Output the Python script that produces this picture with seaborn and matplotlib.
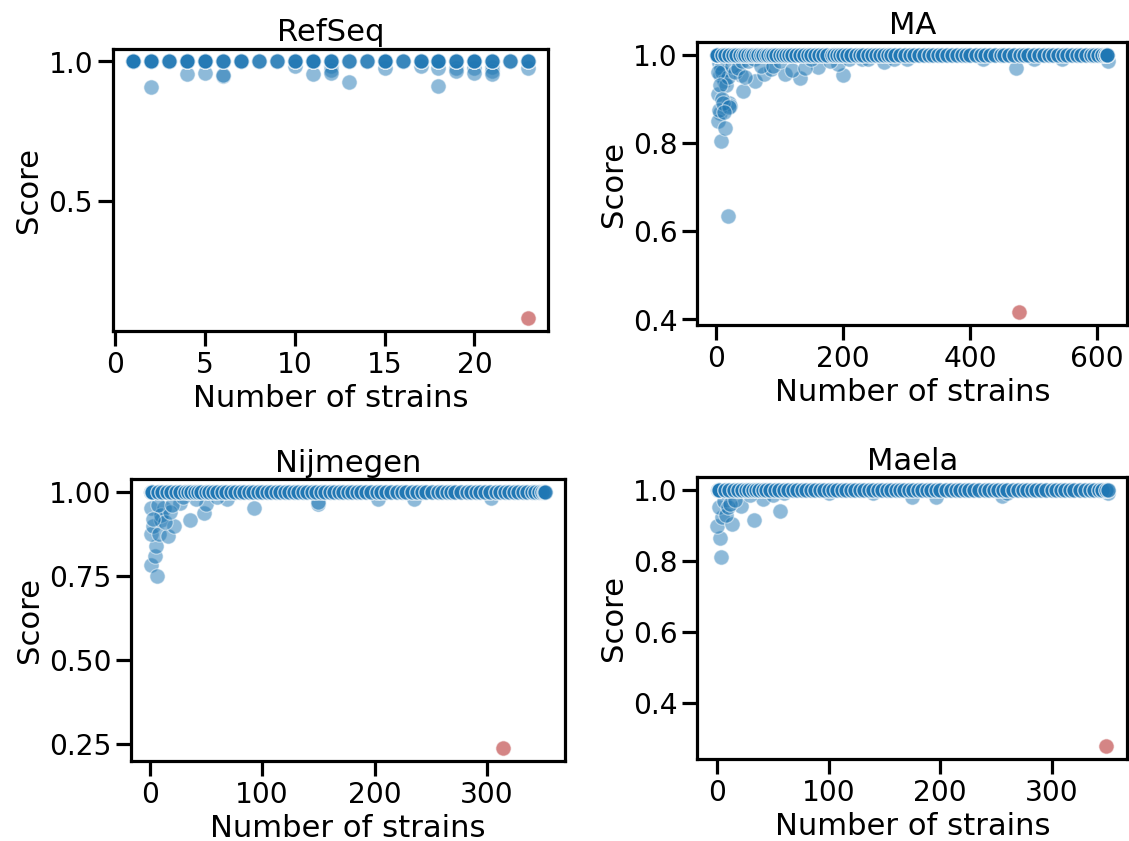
import matplotlib

matplotlib.use("Agg")
import matplotlib.pyplot as plt
import pandas as pd
import seaborn as sns

W, H, DPI = 1129, 841, 92

BLUE = "tab:blue"
RED = "firebrick"

# RefSeq: number of strains per cluster, how many clusters scored 1.0, and the lower scores
REFSEQ_FULL_X = [1, 2, 3, 4, 5, 6, 7, 8, 9, 10, 11, 12, 13, 14, 15, 16, 17, 18, 19, 20, 21, 22, 23]
REFSEQ_FULL_N = [6, 5, 4, 5, 5, 4, 4, 3, 3, 4, 5, 4, 3, 3, 5, 3, 4, 5, 4, 5, 4, 3, 4]
REFSEQ_LOW_X = [2, 4, 5, 6, 6, 10, 11, 12, 12, 12, 13, 15, 17, 18, 18, 19, 19, 20, 20, 21, 21, 21, 23]
REFSEQ_LOW_Y = [0.908, 0.956, 0.96, 0.947, 0.95, 0.983, 0.956, 0.985, 0.97, 0.96, 0.926, 0.975,
                0.985, 0.975, 0.911, 0.975, 0.965, 0.975, 0.96, 0.98, 0.965, 0.955, 0.975]
REFSEQ_OUT = (23, 0.08)

# MA
MA_FULL_X = [1, 1, 1, 1, 2, 2, 9, 14, 20, 26,
             32, 38, 42, 46, 50, 55, 58, 62, 66, 70, 74, 78, 82, 86, 90, 95, 100, 105, 110,
             115, 120, 126, 132, 138, 144, 150, 156, 162, 168, 175, 182, 186, 190, 195, 200, 206,
             212, 220, 226, 232, 240, 246, 252, 258, 265, 270, 276, 282, 290, 298, 306, 312, 320,
             328, 335, 342, 350, 356, 364, 372, 380, 388, 394, 400, 410, 418, 424, 432, 440, 448,
             454, 462, 470, 478, 485, 492, 500, 508, 516, 524, 530, 538, 546, 552, 560, 568, 575,
             582, 590, 596, 602, 608, 612, 615, 615]
MA_LOW_X = [5.6, 3, 5.6, 3, 7, 18.6, 14, 20, 22, 43, 39, 61, 76, 87, 108, 132, 160, 200, 192, 473,
            265, 617, 5, 8, 10, 12, 15, 18, 25, 30, 35, 40, 45, 3, 6, 9, 4, 11, 20, 13, 50, 60, 70,
            90, 100, 120, 140, 150, 180, 210, 230, 240, 300, 420, 500, 545, 280]
MA_LOW_Y = [0.953, 0.91, 0.868, 0.85, 0.805, 0.635, 0.834, 0.891, 0.884, 0.918, 0.953, 0.941, 0.956,
            0.968, 0.956, 0.946, 0.972, 0.954, 0.979, 0.969, 0.983, 0.985, 0.98, 0.97, 0.96, 0.94,
            0.93, 0.95, 0.975, 0.96, 0.97, 0.985, 0.95, 0.96, 0.93, 0.9, 0.875, 0.89, 0.88, 0.87,
            0.985, 0.99, 0.975, 0.975, 0.985, 0.965, 0.97, 0.99, 0.985, 0.99, 0.99, 0.99, 0.99,
            0.99, 0.99, 0.99, 0.99]
MA_OUT = (477, 0.417)

# Nijmegen
NIJ_FULL_X = [1, 1, 1, 1, 2, 2, 7, 11, 15, 19,
              23, 27, 31, 34, 37, 40, 43, 46, 50, 53, 56, 60, 64, 68, 72, 76, 80, 84, 88, 92,
              96, 100, 104, 108, 112, 116, 120, 124, 128, 132, 136, 140, 144, 148, 152, 156, 160,
              164, 168, 172, 176, 180, 184, 188, 192, 197, 202, 206, 210, 215, 220, 224, 228, 233,
              238, 242, 246, 251, 256, 260, 264, 268, 272, 277, 282, 286, 290, 294, 298, 303, 308,
              312, 316, 320, 324, 328, 332, 336, 340, 343, 346, 349, 351, 352]
NIJ_LOW_X = [1.6, 6.4, 4.8, 5.4, 1, 3, 8, 16, 10.5, 22, 1.6, 12.8, 36, 48, 50, 41.6, 27, 92.7, 150,
             203, 69, 235, 304, 10, 14, 18, 7, 3, 20, 30, 150, 60]
NIJ_LOW_Y = [0.783, 0.748, 0.808, 0.838, 0.873, 0.897, 0.873, 0.868, 0.917, 0.897, 0.952, 0.952,
             0.917, 0.937, 0.962, 0.977, 0.967, 0.952, 0.962, 0.977, 0.977, 0.977, 0.982, 0.93,
             0.91, 0.94, 0.96, 0.92, 0.96, 0.985, 0.968, 0.985]
NIJ_OUT = (314, 0.237)

# Maela
MAELA_FULL_X = [1, 1, 1, 1, 2, 2, 7, 11, 15, 19, 23, 26,
                29, 32, 35, 38, 41, 44, 48, 52, 56, 60, 64, 68, 72, 76, 80, 84, 88, 92, 96, 100,
                104, 108, 112, 116, 120, 124, 128, 132, 136, 140, 144, 148, 152, 156, 160, 164,
                168, 172, 176, 180, 184, 188, 192, 196, 200, 205, 210, 214, 218, 222, 226, 230,
                235, 240, 244, 248, 252, 256, 260, 265, 270, 274, 278, 282, 286, 290, 295, 300,
                304, 308, 312, 316, 320, 325, 330, 334, 338, 342, 345, 348, 350]
MAELA_LOW_X = [3.8, 2.5, 0, 4.8, 14, 33, 57, 1.6, 6.4, 22, 175, 196, 255, 41, 8, 10, 12, 16, 30,
               50, 60, 100, 140, 260, 350]
MAELA_LOW_Y = [0.811, 0.864, 0.898, 0.922, 0.903, 0.915, 0.941, 0.95, 0.969, 0.955, 0.978, 0.978,
               0.983, 0.974, 0.93, 0.95, 0.96, 0.97, 0.985, 0.985, 0.99, 0.99, 0.99, 0.99, 0.99]
MAELA_OUT = (348, 0.279)

FULL_REPEAT = 2


def panel_frame(full_x, full_n, low_x, low_y):
    # lower scores first so the row of perfect scores sits on top
    xs, ys = list(low_x), list(low_y)
    for x, n in zip(full_x, full_n):
        xs += [x] * n
        ys += [1.0] * n
    return pd.DataFrame({"strains": xs, "score": ys})


def place(ax, x0, y0, x1, y1):
    ax.set_position([x0 / W, 1 - y1 / H, (x1 - x0) / W, (y1 - y0) / H])


def main() -> None:
    sns.set_theme(context="poster", style="ticks", rc={
        "text.color": "black",
        "axes.labelcolor": "black",
        "axes.edgecolor": "black",
        "xtick.color": "black",
        "ytick.color": "black",
    })
    fig, axes = plt.subplots(2, 2, figsize=(W / DPI + 0.004, H / DPI + 0.004), dpi=DPI)

    panels = [
        ("RefSeq", panel_frame(REFSEQ_FULL_X, REFSEQ_FULL_N, REFSEQ_LOW_X, REFSEQ_LOW_Y), REFSEQ_OUT,
         [0, 5, 10, 15, 20], [0.5, 1.0], (113, 49, 548, 331)),
        ("MA", panel_frame(MA_FULL_X, [FULL_REPEAT] * len(MA_FULL_X), MA_LOW_X, MA_LOW_Y), MA_OUT,
         [0, 200, 400, 600], [0.4, 0.6, 0.8, 1.0], (697, 42, 1127, 325)),
        ("Nijmegen", panel_frame(NIJ_FULL_X, [FULL_REPEAT] * len(NIJ_FULL_X), NIJ_LOW_X, NIJ_LOW_Y), NIJ_OUT,
         [0, 100, 200, 300], [0.25, 0.5, 0.75, 1.0], (131, 479, 565, 761)),
        ("Maela", panel_frame(MAELA_FULL_X, [FULL_REPEAT] * len(MAELA_FULL_X), MAELA_LOW_X, MAELA_LOW_Y), MAELA_OUT,
         [0, 100, 200, 300], [0.4, 0.6, 0.8, 1.0], (697, 477, 1127, 759)),
    ]

    for ax, (title, df, out, xticks, yticks, box) in zip(axes.flat, panels):
        sns.scatterplot(data=df, x="strains", y="score", ax=ax, color=BLUE, alpha=0.5)
        sns.scatterplot(x=[out[0]], y=[out[1]], ax=ax, color=RED, alpha=0.55)
        ax.set_xticks(xticks)
        ax.set_yticks(yticks)
        ax.set_title(title)
        ax.set_xlabel("Number of strains")
        ax.set_ylabel("Score")
        place(ax, *box)

    fig.savefig("out.png", dpi=DPI)
    plt.close(fig)


if __name__ == "__main__":
    main()
